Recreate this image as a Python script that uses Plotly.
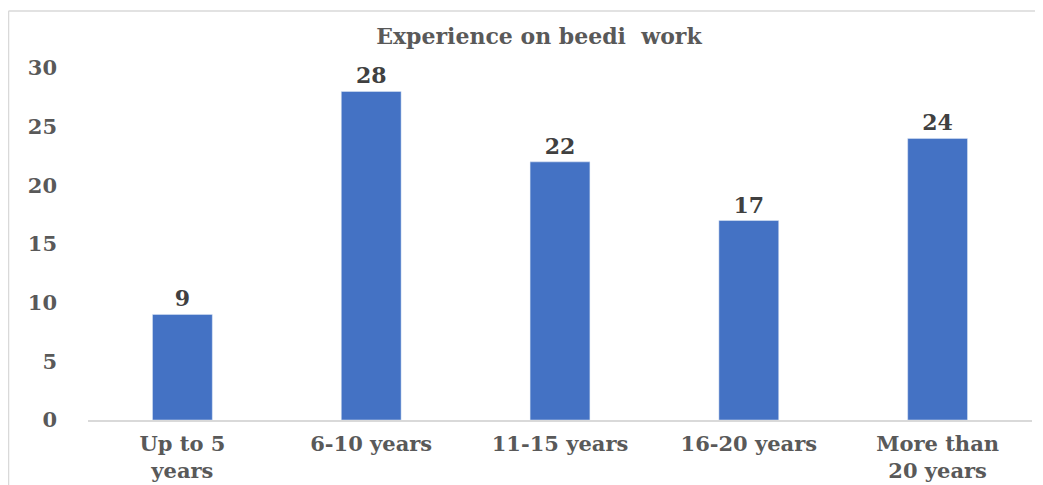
import plotly.graph_objects as go

##############################################
# Data
##############################################

categories = ["Up to 5<br>years", "6-10 years", "11-15 years", "16-20 years", "More than<br>20 years"]
counts = [9, 28, 22, 17, 24]
y_ticks = [0, 5, 10, 15, 20, 25, 30]

FONT = "DejaVu Serif"
BORDER = dict(color="#d9d9d9", width=1.5)

##############################################
# Chart
##############################################

fig = go.Figure()

fig.add_trace(
    go.Bar(
        x=categories,
        y=counts,
        text=counts,
        textposition="outside",
        textfont=dict(family=FONT, size=22, color="#404040", weight="bold"),
        marker_color="#4472C4",
        width=0.317,
        cliponaxis=False
    )
)

##############################################
# Layout
##############################################

# the page puts the figure 8px in from the top-left corner,
# so keep it 8px smaller to avoid scrollbars
fig.update_layout(
    width=1035,
    height=477,
    margin=dict(l=80, r=11, t=60, b=65),
    paper_bgcolor="white",
    plot_bgcolor="white",
    showlegend=False,
    title=dict(
        text="Experience on beedi\u00a0 work",
        x=0.513,
        xanchor="center",
        y=0.941,
        yanchor="middle",
        font=dict(family=FONT, size=22, color="#595959", weight="bold")
    ),
    # chart-area border: only its left and top edges fall inside the picture
    shapes=[
        dict(type="line", xref="paper", yref="paper",
             x0=-0.0842, x1=-0.0842, y0=-0.3, y1=1.162, line=BORDER),
        dict(type="line", xref="paper", yref="paper",
             x0=-0.0842, x1=1.05, y0=1.162, y1=1.162, line=BORDER),
    ]
)

fig.update_xaxes(
    automargin=False,
    showline=True,
    linecolor="#d9d9d9",
    linewidth=1.5,
    showgrid=False,
    ticks="",
    ticklabelstandoff=4,
    tickfont=dict(family=FONT, size=21, color="#595959", weight="bold")
)

fig.update_yaxes(
    automargin=False,
    range=[0, 30],
    tickvals=y_ticks,
    showgrid=False,
    showline=False,
    zeroline=False,
    ticklabelstandoff=30,
    tickfont=dict(family=FONT, size=21, color="#595959", weight="bold")
)

fig.write_html("out.html")
